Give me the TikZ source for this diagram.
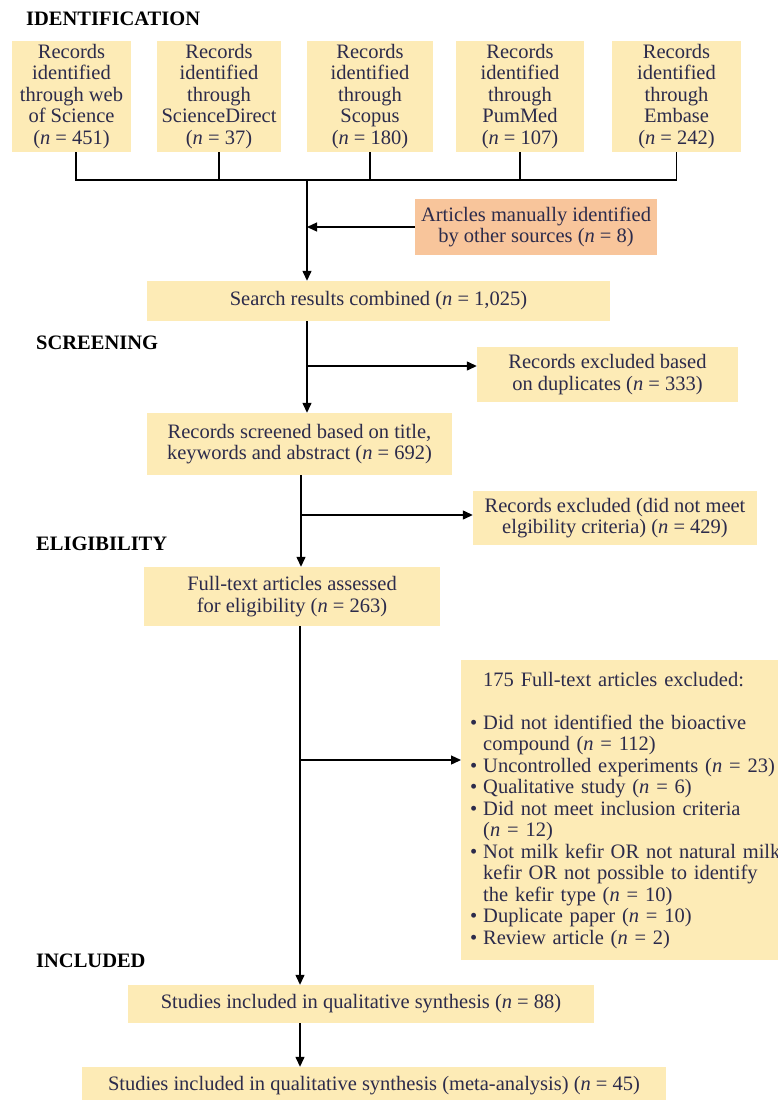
\documentclass[tikz,border=0pt]{standalone}
\usepackage{fontspec}
\setmainfont{Liberation Serif}
\usetikzlibrary{arrows.meta}

\definecolor{boxfill}{HTML}{FDEBB6}
\definecolor{manfill}{HTML}{F8C59B}
\definecolor{ink}{HTML}{2C2B4B}

\newcommand{\ncount}[1]{(\textit{n}~=~#1)}
\newcommand{\xitem}[1]{\mbox{\makebox[13pt][l]{\textbullet}#1}}
\newcommand{\xcont}[1]{\mbox{\hspace*{13pt}#1}}

\tikzset{
    srcbox/.style={fill=boxfill, text=ink, align=center, inner sep=0pt, minimum height=111pt},
    stepbox/.style={fill=boxfill, text=ink, align=center, inner sep=0pt},
    stage/.style={font=\fontsize{20.5}{22}\selectfont\bfseries, anchor=base west, inner sep=0pt},
    conn/.style={draw=black, line width=1.3pt},
    arr/.style={-{Triangle[width=9pt,length=10pt]}}
}

\begin{document}
\begin{tikzpicture}[x=1pt, y=-1pt, font=\fontsize{20.5}{21.5}\selectfont]
                      \useasboundingbox (0,0) rectangle (778,1100);

                      % stage headings
                      \node[stage] (hid) at (26,25) {IDENTIFICATION};
                      \node[stage] (hscr) at (36,349) {SCREENING};
                      \node[stage] (hel) at (36,550) {ELIGIBILITY};
                      \node[stage] (hinc) at (36,967) {INCLUDED};

                      % databases
                      \node[srcbox, minimum width=119pt] (wos) at (71.5,96.5) {Records\\identified\\through web\\of Science\\\ncount{451}};
                      \node[srcbox, minimum width=124pt] (sd) at (219,96.5) {Records\\identified\\through\\ScienceDirect\\\ncount{37}};
                      \node[srcbox, minimum width=126pt] (scop) at (370,96.5) {Records\\identified\\through\\Scopus\\\ncount{180}};
                      \node[srcbox, minimum width=128pt] (pub) at (520,96.5) {Records\\identified\\through\\PumMed\\\ncount{107}};
                      \node[srcbox, minimum width=129pt] (emb) at (676.5,96.5) {Records\\identified\\through\\Embase\\\ncount{242}};

                      \node[stepbox, fill=manfill, minimum width=242pt, minimum height=56pt] (man) at (536,227) {Articles manually identified\\by other sources \ncount{8}};
                      \node[stepbox, minimum width=463pt, minimum height=40pt] (comb) at (378.5,301) {Search results combined \ncount{1,025}};
                      \node[stepbox, minimum width=261pt, minimum height=55pt] (dup) at (607.5,374.5) {Records excluded based\\on duplicates \ncount{333}};
                      \node[stepbox, minimum width=305pt, minimum height=62pt] (screen) at (299.5,444) {Records screened based on title,\\keywords and abstract \ncount{692}};
                      \node[stepbox, minimum width=284pt, minimum height=54pt] (elig) at (615,518) {Records excluded (did not meet\\elgibility criteria) \ncount{429}};
                      \node[stepbox, minimum width=296pt, minimum height=59pt] (full) at (292,596.5) {Full-text articles assessed\\for eligibility \ncount{263}};
                      \node[stepbox, anchor=north west, align=left, text width=312pt, inner xsep=9pt, minimum height=300pt] (excl) at (461,660) {%
                          \xcont{175 Full-text articles excluded:}\\[21.5pt]
                          \xitem{Did not identified the bioactive}\\
                          \xcont{compound \ncount{112}}\\
                          \xitem{Uncontrolled experiments \ncount{23}}\\
                          \xitem{Qualitative study \ncount{6}}\\
                          \xitem{Did not meet inclusion criteria}\\
                          \xcont{\ncount{12}}\\
                          \xitem{Not milk kefir OR not natural milk}\\
                          \xcont{kefir OR not possible to identify}\\
                          \xcont{the kefir type \ncount{10}}\\
                          \xitem{Duplicate paper \ncount{10}}\\
                          \xitem{Review article \ncount{2}}};
                      \node[stepbox, minimum width=466pt, minimum height=38pt] (incl) at (361,1004) {Studies included in qualitative synthesis \ncount{88}};
                      \node[stepbox, minimum width=584pt, minimum height=38pt] (meta) at (374,1086) {Studies included in qualitative synthesis (meta-analysis) \ncount{45}};

                      % connectors
                      \coordinate (jn) at (307,180);
                      \coordinate (b1) at (307,366);
                      \coordinate (b2) at (301,515);
                      \coordinate (b3) at (300,760);

                      \draw[conn] ([xshift=4.5pt]wos.south) |- (jn) -| (emb.south);
                      \draw[conn] (sd.south) -- (sd.south |- jn);
                      \draw[conn] (scop.south) -- (scop.south |- jn);
                      \draw[conn] (pub.south) -- (pub.south |- jn);
                      \draw[conn, arr] (jn) -- (jn |- comb.north);
                      \draw[conn, arr] (man.west) -- (man.west -| jn);

                      \draw[conn, arr] (comb.south -| b1) -- (screen.north -| b1);
                      \draw[conn, arr] (b1) -- (b1 -| dup.west);

                      \draw[conn, arr] (screen.south -| b2) -- (full.north -| b2);
                      \draw[conn, arr] (b2) -- (b2 -| elig.west);

                      \draw[conn, arr] (full.south -| b3) -- (incl.north -| b3);
                      \draw[conn, arr] (b3) -- (b3 -| excl.west);

                      \draw[conn, arr] (incl.south -| b3) -- (meta.north -| b3);

                  \end{tikzpicture}
\end{document}
